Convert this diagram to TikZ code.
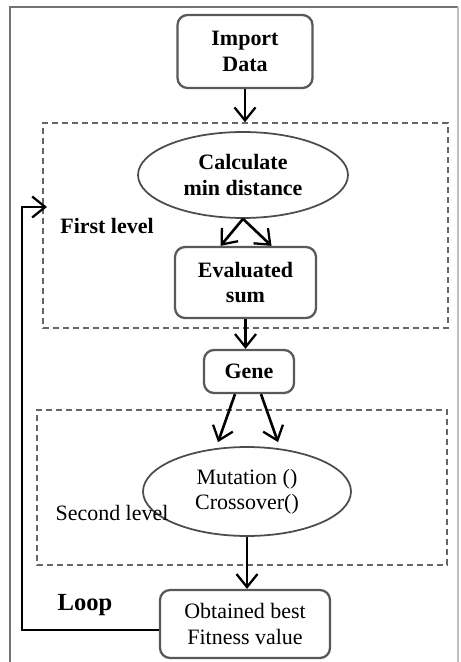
\documentclass[tikz,border=0pt]{standalone}
\usepackage{fontspec}
\setmainfont{Liberation Serif}
\usetikzlibrary{arrows.meta,shapes.geometric,calc}

\tikzset{
  procbox/.style={draw=black!65,line width=1.3pt,rounded corners=0.2cm,align=center,
    font=\fontsize{12.5}{14.5}\selectfont\bfseries,inner sep=2pt},
  procoval/.style={ellipse,draw=black!70,line width=1pt,align=center,
    font=\fontsize{12.5}{14.5}\selectfont,inner sep=0pt},
  levelbox/.style={draw=black!60,line width=0.9pt,dash pattern=on 0.12cm off 0.08cm},
  flow/.style={draw=black,line width=1.5pt,-{Straight Barb[length=2.6mm,width=4.2mm,line width=1.3pt]}},
  lvltext/.style={font=\fontsize{12.5}{14.5}\selectfont}
}

\begin{document}
\begin{tikzpicture}[x=0.02cm,y=-0.02cm]
    \useasboundingbox (0,0) rectangle (460,662);
    % frame round the whole chart
    \draw[black!55,line width=1.2pt] (10,662)--(10,7)--(458,7);
    \draw[black!25,line width=0.8pt] (458,7)--(458,662);

    % the two dashed levels
    \node[levelbox,minimum width=8.1cm,minimum height=4.1cm] (level1) at (245.5,225.5) {};
    \node[levelbox,minimum width=8.2cm,minimum height=3.1cm] (level2) at (242,487.5) {};

    % steps
    \node[procbox,minimum width=2.7cm,minimum height=1.46cm] (import) at (245,51.5) {Import\\Data};
    \node[procoval,minimum width=4.2cm,minimum height=1.72cm,font=\fontsize{12.5}{14.5}\selectfont\bfseries] (calcdist) at (243,175) {Calculate\\min distance};
    \node[procbox,minimum width=2.82cm,minimum height=1.42cm] (evalsum) at (245.5,282.5) {Evaluated\\sum};
    \node[procbox,minimum width=1.8cm,minimum height=0.86cm] (gene) at (249,371.5) {Gene};
    \node[procoval,minimum width=4.16cm,minimum height=1.78cm] (mutcross) at (247,491.5) {Mutation ()\\Crossover()};
    \node[procbox,minimum width=3.4cm,minimum height=1.36cm,font=\fontsize{12.5}{14.5}\selectfont] (best) at (245,624) {Obtained best\\Fitness value};

    \node[lvltext,font=\fontsize{12.5}{14.5}\selectfont\bfseries] (firstlbl) at (107,226) {First level};
    \node[lvltext] (secondlbl) at (112,513) {Second level};
    \node[font=\fontsize{14}{16}\selectfont\bfseries] (looplbl) at (85,605) {Loop};

    % connectors
    \draw[flow] (import.south)--(import.south |- level1.north);
    \draw[flow] (calcdist.south)--($(evalsum.north)+(-25,0)$);
    \draw[flow] (calcdist.south)--($(evalsum.north)+(26,0)$);
    \draw[flow] (evalsum.south)--(evalsum.south |- gene.north);
    \draw[flow] ($(gene.south)+(-14,0)$)--($(mutcross.north)+(-29,-4)$);
    \draw[flow] ($(gene.south)+(12,0)$)--($(mutcross.north)+(31,-4)$);
    \draw[flow] (mutcross.south)--(mutcross.south |- best.north);

    % loop back to the first level
    \coordinate (loopend) at (47,207);
    \draw[flow] ([yshift=-0.12cm]best.west) -| ([xshift=-0.5cm]loopend) -- (loopend);
\end{tikzpicture}
\end{document}
